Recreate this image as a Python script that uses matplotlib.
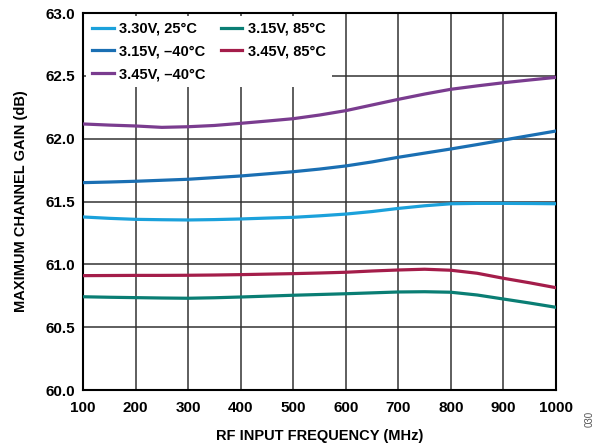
import numpy as np
import matplotlib.pyplot as plt

plt.rcParams['font.family'] = ['Liberation Sans', 'DejaVu Sans']

# 频率 (MHz)
freq = [100, 150, 200, 250, 300, 350, 400, 450, 500, 550,
        600, 650, 700, 750, 800, 850, 900, 950, 1000]

# 最大通道增益 (dB)
g_345_m40 = [62.117, 62.108, 62.101, 62.090, 62.095, 62.105, 62.122, 62.140, 62.159, 62.188,
             62.223, 62.268, 62.313, 62.355, 62.393, 62.420, 62.445, 62.467, 62.488]
g_315_m40 = [61.650, 61.655, 61.661, 61.669, 61.677, 61.690, 61.703, 61.720, 61.737, 61.758,
             61.783, 61.815, 61.852, 61.885, 61.918, 61.953, 61.989, 62.025, 62.061]
g_330_25 = [61.377, 61.366, 61.358, 61.355, 61.353, 61.356, 61.361, 61.368, 61.374, 61.386,
            61.400, 61.420, 61.445, 61.466, 61.482, 61.485, 61.485, 61.484, 61.482]
g_345_85 = [60.910, 60.911, 60.912, 60.912, 60.913, 60.915, 60.918, 60.922, 60.926, 60.931,
            60.937, 60.947, 60.955, 60.961, 60.953, 60.929, 60.889, 60.853, 60.814]
g_315_85 = [60.742, 60.738, 60.735, 60.732, 60.730, 60.734, 60.740, 60.747, 60.754, 60.760,
            60.766, 60.773, 60.780, 60.782, 60.778, 60.756, 60.724, 60.692, 60.658]

labels = ['3.30V, 25°C', '3.15V, –40°C', '3.45V, –40°C', '3.15V, 85°C', '3.45V, 85°C']
series = [g_330_25, g_315_m40, g_345_m40, g_315_85, g_345_85]
colors = ['#1ba1db', '#1a6fb3', '#7a3c8f', '#0a7e74', '#a41d4a']

fig = plt.figure(figsize=(5.99, 4.46), dpi=100)
ax = fig.add_axes([83 / 599, 1 - 390 / 446, (556 - 83) / 599, (390 - 13) / 446])

for y, c, lab in zip(series, colors, labels):
    ax.plot(freq, y, color=c, lw=2.3, label=lab, zorder=3,
            solid_joinstyle='round')

ax.set_xlim(100, 1000)
ax.set_ylim(60.0, 63.0)
ax.set_xticks(np.arange(100, 1001, 100))
ax.set_yticks(np.arange(60.0, 63.01, 0.5))
ax.set_yticklabels([f'{v:.1f}' for v in np.arange(60.0, 63.01, 0.5)])
ax.grid(True, color='#333333', lw=1.1)
ax.tick_params(length=0, labelsize=11, pad=6)
ax.tick_params(axis='x', pad=8)
for lbl in ax.get_xticklabels() + ax.get_yticklabels():
    lbl.set_fontweight('bold')
for s in ax.spines.values():
    s.set_linewidth(1.5)

ax.set_xlabel('RF INPUT FREQUENCY (MHz)', fontsize=10.5, fontweight='bold', labelpad=10)
ax.set_ylabel('MAXIMUM CHANNEL GAIN (dB)', fontsize=10.5, fontweight='bold', labelpad=12)

leg = ax.legend(loc='upper left', ncol=2, frameon=True, fancybox=False,
                edgecolor='none', facecolor='white', framealpha=1,
                prop={'weight': 'bold', 'size': 10.5}, handlelength=1.5,
                handletextpad=0.4, columnspacing=1.0, labelspacing=0.6,
                borderaxespad=0.2)
leg.set_zorder(5)

fig.text(0.985, 0.06, '030', rotation=90, fontsize=7, color='#555555',
         ha='center', va='center')

plt.savefig('out.png', dpi=100)
